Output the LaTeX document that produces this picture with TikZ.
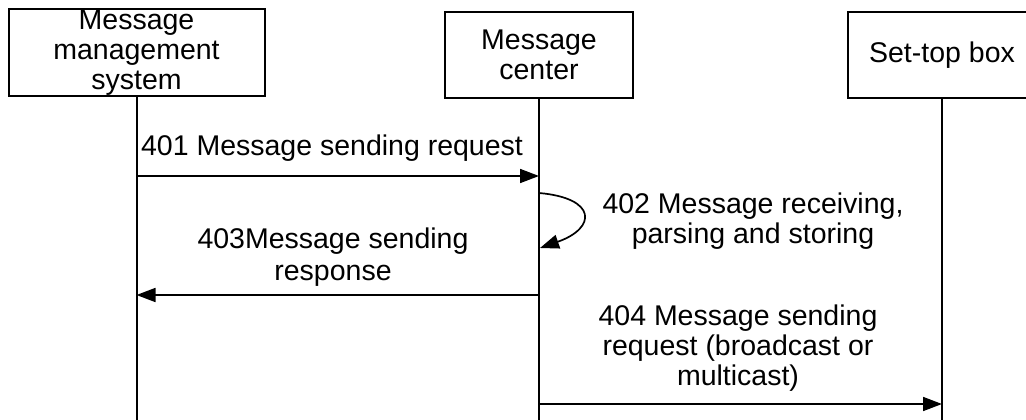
\documentclass[tikz,border=0pt]{standalone}
\usepackage{fontspec}
\setmainfont{Liberation Sans}
\usetikzlibrary{arrows.meta}
\begin{document}
\begin{tikzpicture}[x=1pt,y=-1pt,
  every node/.style={font=\fontsize{28.5}{30}\selectfont, align=center, inner sep=0pt},
  actor/.style={draw, line width=2pt, minimum height=87pt},
  life/.style={line width=2pt},
  msg/.style={line width=1.7pt, -{Triangle[length=19pt,width=14pt]}},
  lbl/.style={}]
\useasboundingbox (0,0) rectangle (1026,420);
\clip (0,0) rectangle (1026,420);
\node[actor, minimum width=256pt] (sys) at (136.5,53) {Message\\management\\system};
\node[actor, minimum width=188pt, minimum height=86pt] (ctr) at (539,55) {Message\\center};
\node[actor, minimum width=188pt, minimum height=86pt] (stb) at (942,55) {Set-top box};
\coordinate (sysE) at (136.5,421);
\coordinate (ctrE) at (539,421);
\coordinate (stbE) at (942,421);
\draw[life] (sys.south) -- (sysE);
\draw[life] (ctr.south) -- (ctrE);
\draw[life] (stb.south) -- (stbE);
% message points
\coordinate (m1s) at (136.5,176);
\coordinate (m1e) at (539,176);
\coordinate (m2s) at (539,193);
\coordinate (m2e) at (540,248);
\coordinate (m3s) at (539,295);
\coordinate (m3e) at (136.5,295);
\coordinate (m4s) at (539,404);
\coordinate (m4e) at (942,404);
\draw[msg] (m1s) -- (m1e);
\draw[msg] (m2s) .. controls (597,198) and (597,228) .. (m2e);
\draw[msg] (m3s) -- (m3e);
\draw[msg] (m4s) -- (m4e);
\node[lbl] (l1) at (332,148) {401 Message sending request};
\node[lbl] (l2) at (753,221) {402 Message receiving,\\parsing and storing};
\node[lbl, font=\fontsize{28.5}{32}\selectfont] (l3) at (333,257) {403Message sending\\response};
\node[lbl] (l4) at (738,348) {404 Message sending\\request (broadcast or\\multicast)};
\end{tikzpicture}
\end{document}
